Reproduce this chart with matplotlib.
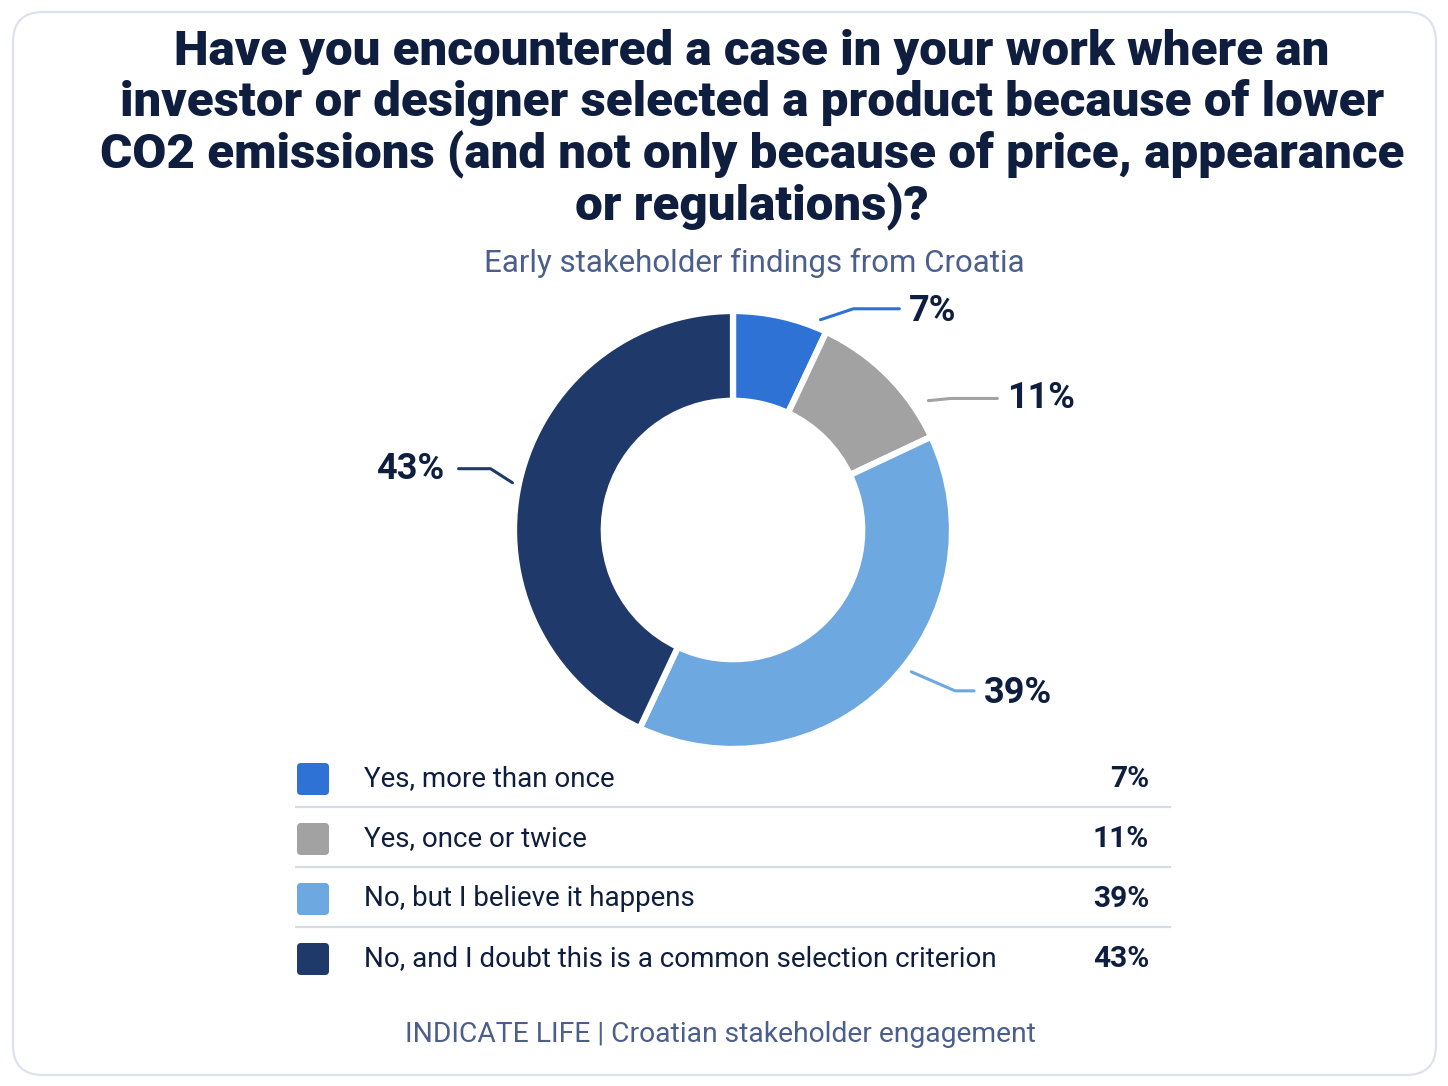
import matplotlib
matplotlib.use("Agg")
import matplotlib.pyplot as plt
from matplotlib.patches import FancyBboxPatch
import numpy as np

# ---- data ----
categories = ["Yes, more than once", "Yes, once or twice",
              "No, but I believe it happens",
              "No, and I doubt this is a common selection criterion"]
values = [7, 11, 39, 43]
pct_labels = ["7%", "11%", "39%", "43%"]
title = ("Have you encountered a case in your work where an\n"
         "investor or designer selected a product because of lower\n"
         "CO2 emissions (and not only because of price, appearance\n"
         "or regulations)?")
subtitle = "Early stakeholder findings from Croatia"
footer = "INDICATE LIFE | Croatian stakeholder engagement"

# ---- style ----
colors = ["#2f72d6", "#a2a2a2", "#6ea8e0", "#1f3a6a"]
navy = "#0f1e3e"
slate = "#4b5e8c"
FONT = ["Roboto", "DejaVu Sans"]
plt.rcParams["font.family"] = FONT

W, H = 1448, 1086
fig = plt.figure(figsize=(W / 100, H / 100), dpi=100)

# overlay axes in pixel coordinates
ov = fig.add_axes([0, 0, 1, 1])
ov.set_xlim(0, W)
ov.set_ylim(H, 0)
ov.axis("off")

card = FancyBboxPatch((13, 12), 1423, 1063,
                      boxstyle="round,pad=0,rounding_size=30",
                      facecolor="white", edgecolor="#dde3ee", lw=1.6, zorder=0)
ov.add_patch(card)

ov.text(752, 29, title, ha="center", va="top", fontsize=35.5,
        fontweight=900, color=navy, linespacing=1.11, zorder=3)
ov.text(754, 263, subtitle, ha="center", va="center", fontsize=22.5,
        color=slate, zorder=3)

# legend table
row_y = [779, 839, 899, 959]
for i, (cat, pl, c) in enumerate(zip(categories, pct_labels, colors)):
    y = row_y[i]
    ov.add_patch(FancyBboxPatch((297, y - 16), 32, 32,
                                boxstyle="round,pad=0,rounding_size=4",
                                facecolor=c, edgecolor="none", zorder=3))
    ov.text(364, y, cat, ha="left", va="center", fontsize=20,
            color=navy, zorder=3)
    ov.text(1149, y, pl, ha="right", va="center", fontsize=21.5,
            fontweight="bold", color=navy, zorder=3)
    if i < len(categories) - 1:
        ov.plot([295, 1171], [y + 28, y + 28], color="#d6dce6", lw=1.6,
                zorder=2, solid_capstyle="butt")

ov.text(720, 1034, footer, ha="center", va="center", fontsize=20.3,
        color=slate, zorder=3)

# donut axes: center (733,530) px, radius 219 px
R = 219.0
cx, cy = 733, 530
half_w, half_h = 450, 250
ax = fig.add_axes([(cx - half_w) / W, (H - cy - half_h) / H,
                   2 * half_w / W, 2 * half_h / H])
wedges, _ = ax.pie(values, colors=colors, startangle=90, counterclock=False,
                   radius=1.0, wedgeprops=dict(width=0.41, edgecolor="white",
                                               linewidth=4.5))
ax.set_xlim(-half_w / R, half_w / R)
ax.set_ylim(-half_h / R, half_h / R)
ax.set_aspect("auto")
ax.axis("off")

# leader lines: anchor angle offset (deg), start radius, kink (dx, dy), horizontal length, text gap
angle_off = [-10, -11.5, 6.5, 0.5]
start_r = [1.04, 1.07, 1.04, 1.03]
kink = [(0.15, 0.05), (0.10, 0.01), (0.20, -0.087), (-0.10, 0.064)]
hlen = [0.21, 0.215, 0.087, 0.146]
gap = [0.045, 0.045, 0.045, 0.065]
text_dy = [-0.01, 0.0, -0.01, 0.0]

for i, w in enumerate(wedges):
    mid = np.deg2rad((w.theta1 + w.theta2) / 2 + angle_off[i])
    x0, y0 = start_r[i] * np.cos(mid), start_r[i] * np.sin(mid)
    x1, y1 = x0 + kink[i][0], y0 + kink[i][1]
    side = 1 if np.cos(mid) >= 0 else -1
    x2 = x1 + side * hlen[i]
    ax.plot([x0, x1, x2], [y0, y1, y1], color=colors[i], lw=2.2,
            solid_capstyle="round", clip_on=False)
    ax.text(x2 + side * gap[i], y1 + text_dy[i], pct_labels[i],
            ha="left" if side > 0 else "right", va="center",
            fontsize=26, fontweight="bold", color=navy)

fig.savefig("out.png", dpi=100)
